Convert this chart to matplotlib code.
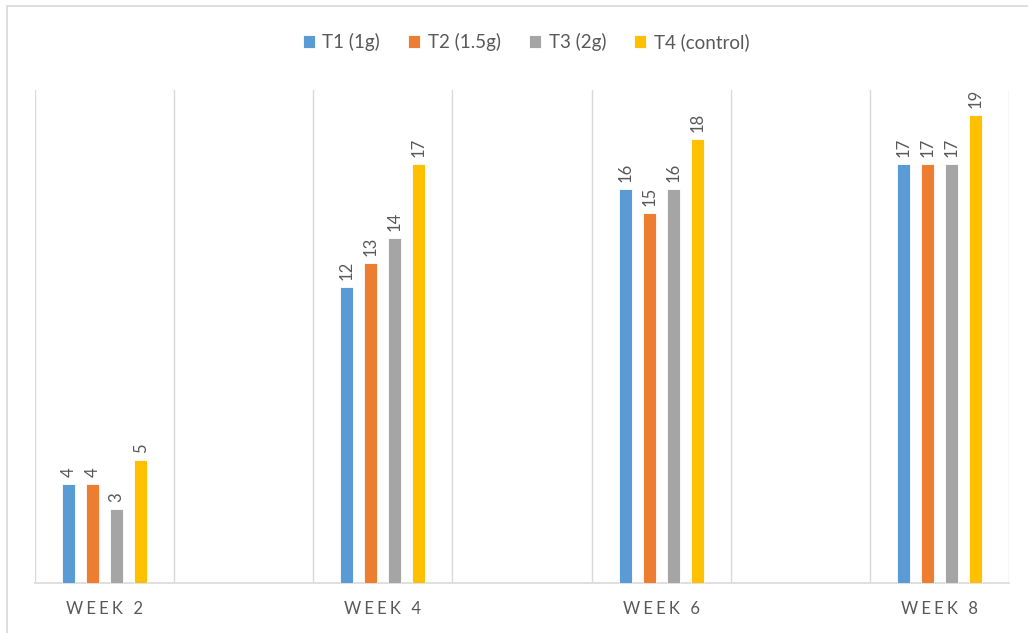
import numpy as np
import matplotlib.pyplot as plt
from matplotlib.patches import Rectangle

# Weekly results for the four treatments
weeks = ['WEEK 2', 'WEEK 4', 'WEEK 6', 'WEEK 8']
series_names = ['T1 (1g)', 'T2 (1.5g)', 'T3 (2g)', 'T4 (control)']
t1 = [4, 12, 16, 17]
t2 = [4, 13, 15, 17]
t3 = [3, 14, 16, 17]
t4 = [5, 17, 18, 19]

colors = ['#5B9BD5', '#ED7D31', '#A5A5A5', '#FFC000']
text_color = '#595959'
grid_color = '#D9D9D9'

plt.rcParams['font.family'] = ['Lato', 'DejaVu Sans']

fig = plt.figure(figsize=(10.28, 6.33), dpi=100)
ax = fig.add_axes([35 / 1028, 50 / 633, 974 / 1028, 493 / 633])

x = np.arange(len(weeks))
width = 0.047
offsets = [-0.1295, -0.0432, 0.0432, 0.1295]

for vals, name, col, off in zip([t1, t2, t3, t4], series_names, colors, offsets):
    bars = ax.bar(x + off, vals, width, color=col, label=name,
                  edgecolor='white', linewidth=0.6, zorder=3)
    for b, v in zip(bars, vals):
        ax.annotate(str(v), (b.get_x() + b.get_width() / 2, v),
                    xytext=(0, 5), textcoords='offset points',
                    rotation=90, ha='center', va='bottom',
                    fontsize=12, color=text_color)

ax.set_xlim(-0.25, 3.25)
ax.set_ylim(0, 20)
ax.set_yticks([])

# spaced-out category labels
gap = '\u2009\u200a'
ax.set_xticks(x)
ax.set_xticklabels([gap.join(w) for w in weeks], fontsize=12, color=text_color)
ax.tick_params(axis='x', length=0, pad=13)

ax.set_xticks(np.arange(-0.25, 3.3, 0.5), minor=True)
ax.tick_params(axis='x', which='minor', length=0)
ax.grid(True, axis='x', which='minor', color=grid_color, linewidth=1, zorder=0)

for side in ['left', 'right', 'top']:
    ax.spines[side].set_visible(False)
ax.spines['bottom'].set_color(grid_color)
ax.spines['bottom'].set_linewidth(1.2)

leg = fig.legend(loc='center', bbox_to_anchor=(526 / 1028, 1 - 42 / 633),
                 ncol=4, frameon=False, fontsize=13.5, handlelength=0.65,
                 handleheight=0.65, handletextpad=0.4, columnspacing=1.5)
for t in leg.get_texts():
    t.set_color(text_color)

# chart area border
fig.patches.append(Rectangle((6.5 / 1028, -0.05), 1.2, 1.05 - 5.5 / 633,
                             transform=fig.transFigure, fill=False,
                             edgecolor=grid_color, linewidth=1.2))

fig.savefig('out.png', dpi=100)
